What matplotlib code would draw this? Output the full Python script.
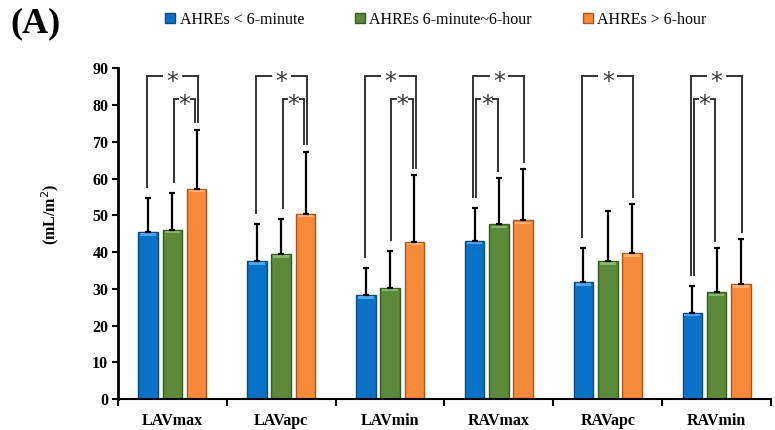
import matplotlib
matplotlib.use("Agg")
import matplotlib.pyplot as plt
from matplotlib.patches import Patch
import numpy as np

categories = ["LAVmax", "LAVapc", "LAVmin", "RAVmax", "RAVapc", "RAVmin"]
series_names = ["AHREs < 6-minute", "AHREs 6-minute~6-hour", "AHREs > 6-hour"]

short_mean = [45.4, 37.6, 28.3, 43.1, 31.8, 23.5]
short_sd = [9.3, 10.0, 7.3, 9.0, 9.4, 7.3]
mid_mean = [46.1, 39.5, 30.3, 47.5, 37.6, 29.0]
mid_sd = [10.0, 9.4, 10.0, 12.6, 13.6, 12.0]
long_mean = [57.2, 50.4, 42.8, 48.6, 39.7, 31.3]
long_sd = [16.1, 16.9, 18.2, 14.0, 13.4, 12.2]

# significance brackets: (category, bar a, bar b, level)
sig_pairs = [
    (0, 0, 2, "outer"), (0, 1, 2, "inner"),
    (1, 0, 2, "outer"), (1, 1, 2, "inner"),
    (2, 0, 2, "outer"), (2, 1, 2, "inner"),
    (3, 0, 2, "outer"), (3, 0, 1, "inner"),
    (4, 0, 2, "outer"),
    (5, 0, 2, "outer"), (5, 0, 1, "inner"),
]

colors = ["#0A72C6", "#5A8A3A", "#F7893A"]
edges = ["#0a4a80", "#365a22", "#a8561c"]
tops = ["#4aa8ee", "#86b866", "#ffb070"]

means = [short_mean, mid_mean, long_mean]
sds = [short_sd, mid_sd, long_sd]

plt.rcParams['font.family'] = ['Liberation Serif', 'DejaVu Serif']

fig = plt.figure(figsize=(7.75, 4.3), dpi=100)
ax = fig.add_axes([118/775, 1-399/430, (771-118)/775, (399-68.3)/430])

x = np.arange(len(categories))
w = 0.18
off = 0.223
for k in range(3):
    xs = x + (k-1)*off
    ax.bar(xs, means[k], width=w, color=colors[k], edgecolor=edges[k], linewidth=1.0, zorder=2)
    # light strip at the top of each bar
    ax.bar(xs, [0.7]*len(x), bottom=np.array(means[k])-1.0, width=w*0.8,
           color=tops[k], linewidth=0, zorder=2.5)
    ax.errorbar(xs, means[k], yerr=[np.zeros(len(x)), sds[k]], fmt='none', ecolor='black',
                elinewidth=1.6, capsize=2, capthick=1.6, zorder=3)

lvl_y = {"outer": 88.0, "inner": 81.6}
shift = 0.012
for c, a, b, lvl in sig_pairs:
    s = -shift if lvl == "outer" else shift
    xa = x[c] + (a-1)*off + s
    xb = x[c] + (b-1)*off - s
    ya = means[a][c] + sds[a][c] + 3
    yb = means[b][c] + sds[b][c] + 2
    yt = lvl_y[lvl]
    ax.plot([xa, xa, xb, xb], [ya, yt, yt, yb], color='#333333', lw=1.4, zorder=4,
            solid_joinstyle='miter')
    # white gap behind the star
    gw = 0.085 if lvl == "outer" else 0.05
    ax.plot([(xa+xb)/2 - gw, (xa+xb)/2 + gw], [yt, yt], color='white', lw=3, zorder=5,
            solid_capstyle='butt')
    ax.text((xa+xb)/2, yt - 1.7, "*", ha='center', va='center', fontsize=17, color='#3a3a3a',
            family='DejaVu Sans', zorder=6)

ax.set_xlim(-0.5, len(categories)-0.5)
ax.set_ylim(0, 90)
ax.set_yticks(np.arange(0, 91, 10))
ax.set_xticks(x)
ax.set_xticklabels(categories, fontsize=11.5, fontweight='bold')
ax.set_xticks(np.arange(-0.5, len(categories), 1), minor=True)
ax.tick_params(axis='x', which='major', length=0, pad=10)
ax.tick_params(axis='x', which='minor', length=5, width=1.5, direction='out')
ax.tick_params(axis='y', length=4, width=1.5, direction='out', labelsize=11.5, pad=3)
for lab in ax.get_yticklabels():
    lab.set_fontweight('bold')
ax.spines['top'].set_visible(False)
ax.spines['right'].set_visible(False)
ax.spines['left'].set_linewidth(2)
ax.spines['bottom'].set_linewidth(1.5)

fig.text(50/775, 1-214/430, "(mL/m$^{2}$)", rotation=90, ha='center', va='center',
         fontsize=11.5, fontweight='bold')
fig.text(10/775, 1-24/430, "(A)", fontsize=26, fontweight='bold', ha='left', va='center')

handles = [Patch(facecolor=colors[k], edgecolor=edges[k]) for k in range(3)]
fig.legend(handles, series_names, loc='center', bbox_to_anchor=(436/775, 1-20/430), ncol=3,
           frameon=False, fontsize=11.5, handlelength=0.6, handleheight=0.6, handletextpad=0.3,
           columnspacing=3.2)

fig.savefig("out.png", dpi=100)
